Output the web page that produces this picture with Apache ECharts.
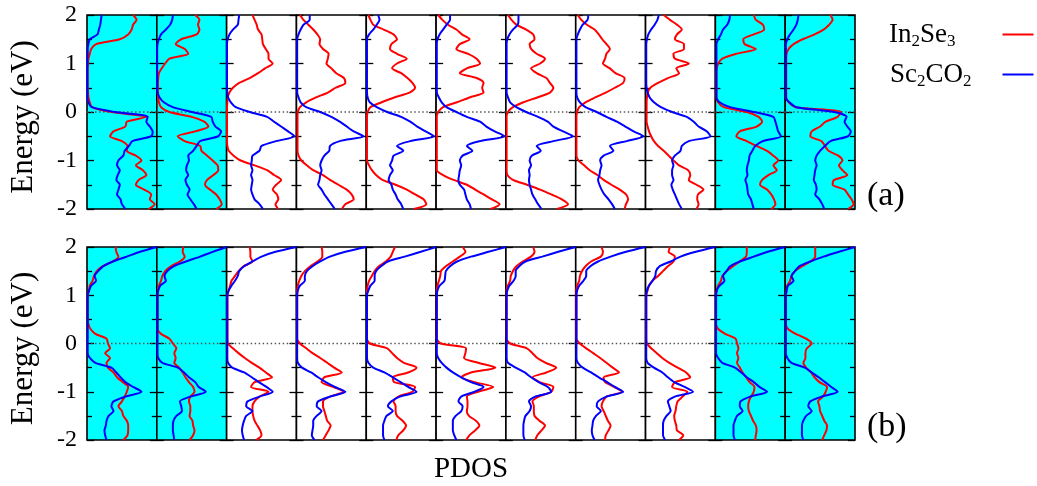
<!DOCTYPE html>
<html>
<head>
<meta charset="utf-8">
<script src="https://cdn.jsdelivr.net/npm/echarts@6/dist/echarts.min.js"></script>
<style>
html,body{margin:0;padding:0;background:#fff;}
#pdos{width:1037px;height:486px;}
</style>
</head>
<body>
<div id="pdos"></div>
<script>
// energy grid, 2 eV down to -2 eV
var energy = [2.0,1.9,1.8,1.7,1.6,1.5,1.4,1.3,1.2,1.1,1.0,0.9,0.8,0.7,0.6,0.5,0.4,0.3,0.2,0.1,0.0,
	-0.1,-0.2,-0.3,-0.4,-0.5,-0.6,-0.7,-0.8,-0.9,-1.0,-1.1,-1.2,-1.3,-1.4,-1.5,-1.6,-1.7,-1.8,-1.9,-2.0];
var energyTicks = [-2,-1,0,1,2];
var seriesNames = ['In2Se3','Sc2CO2'];
var rowLabels = ['(a)','(b)'];
var cyanPanels = [0,1,9,10];

// row (a), PDOS in % of panel width
var a01In = [66,71,66,64,59,47,13,6,4,2, 1.5,1,1,1,1,1,1.5,2,4,7, 35,85,57,55,38,33,50,58,57,70, 78,70,80,85,74,70,82,92,90,97, 88];
var a01Sc = [21,20,19,17,15,4,2,1,1,0.5, 0.5,0.5,0.5,0.5,0.5,0.5,0.5,0.5,2,7, 40,87,85,90,94,92,65,60,54,52, 45,43,47,44,42,47,45,43,48,50, 55];
var a02In = [55,61,59,61,57,35,27,40,45,18, 12,7,3,2,1.5,1.5,1.5,2,3,6, 18,50,68,74,55,30,40,62,64,72, 80,87,88,81,72,69,76,85,90,93, 85];
var a02Sc = [23,22,19,13,6,3,1,0.5,0.5,0.5, 0.5,0.5,0.5,0.5,0.5,0.5,1,4,10,23, 50,78,80,84,92,88,62,57,52,45, 46,43,42,45,41,43,47,44,48,53, 57];
var a03In = [37,40,43,45,50,51,52,56,60,60, 66,55,45,33,18,9,4,1.5,1,0.5, 0.5,0.5,0.5,0.5,0.5,0.5,0.5,1,3,10, 20,40,58,68,78,71,66,72,74,70, 74];
var a03Sc = [18,17,16,9,4,1.5,0.5,0.5,0.5,0.5, 0.5,0.5,0.5,0.5,0.5,0.5,1,2,6,13, 33,58,68,78,88,97,71,50,47,37, 36,35,37,35,37,36,35,37,40,47, 52];
var a04In = [5,10,17,24,30,34,33,38,46,45, 43,50,57,68,70,56,45,28,14,5, 2,1.5,1.5,1.5,1.5,1.5,1.5,1.5,1.5,3, 7,15,24,38,48,60,72,79,82,70, 65];
var a04Sc = [19,19,10,6,3,1,1,1,1,1, 1,1,1,1,1,1,1,3,6,14, 34,50,62,72,82,96,62,48,47,40, 36,34,36,34,33,31,36,40,45,50, 55];
var a05In = [3,6,10,25,39,44,36,34,44,58, 44,37,50,59,66,70,62,40,22,6, 2,1,1,1,1,1,1,1,1,1, 1,4,8,14,23,42,58,70,82,86, 68];
var a05Sc = [17,19,15,10,4,1,1,1,1,1, 1,1,1,1,1,1,1,2,5,15, 30,50,63,73,85,97,63,44,53,39, 37,34,38,34,32,36,38,42,45,50, 53];
var a06In = [3,9,17,29,37,48,34,29,46,58, 63,44,34,58,68,66,68,48,30,10, 3,1,1,1,1,1,1,1,1,1, 1,1,1,10,25,44,56,68,80,91, 78];
var a06Sc = [20,20,15,10,5,2,1,1,1,1, 1,1,1,1,1,1,1,4,8,15, 29,44,63,72,84,98,63,44,52,38, 34,36,34,33,32,34,40,42,44,48, 50];
var a07In = [3,8,15,29,39,41,34,36,44,56, 49,36,44,58,63,68,63,45,25,10, 3,1,1,1,1,1,1,1,1,1, 1,1,1,2,10,30,49,65,80,89, 73];
var a07Sc = [18,18,17,10,5,2,1,1,1,1, 1,1,1,1,1,1,1,3,6,15, 29,46,60,68,82,96,68,44,50,37, 34,36,33,34,33,34,36,38,42,46, 51];
var a08In = [3,8,16,27,33,38,44,49,44,42, 39,49,57,70,68,56,43,28,14,5, 2,1,1,1,1,1,1,1,1,1, 4,12,20,31,40,51,63,72,75,72, 70];
var a08Sc = [18,17,10,6,3,1,1,1,1,1, 1,1,1,1,1,1,1,2,6,14, 30,44,59,71,83,97,73,49,54,40, 35,37,35,34,32,34,37,41,47,52, 56];
var a09In = [26,35,45,52,45,42,55,55,40,42, 62,44,48,32,18,7,3,2,1.5,1.5, 1.5,1.5,1.5,3,5,8,12,18,26,33, 40,48,61,64,62,73,83,75,74,76, 73];
var a09Sc = [19,17,13,8,4,2,1,1,1,1, 1,1,1,1,1,1.5,3,6,12,22, 38,59,69,76,88,93,62,52,50,42, 38,40,38,38,40,37,39,42,45,48, 52];
var a10In = [55,58,68,70,55,40,42,58,30,10, 4,2,1.5,1.5,1.5,1.5,1.5,1.5,4,12, 45,62,67,59,35,30,45,59,74,83, 90,83,88,76,67,64,74,80,84,86, 80];
var a10Sc = [21,20,17,11,8,4,1.5,1.5,1.5,1.5, 1.5,1.5,1.5,1.5,1.5,1.5,1.5,1.5,6,21, 55,83,86,88,90,94,68,57,53,49, 48,46,45,46,43,45,46,47,51,53, 55];
var a11In = [65,68,63,55,42,25,12,5,2,1.5, 1.5,1.5,1.5,1.5,1.5,1.5,1.5,1.5,5,15, 80,75,58,50,38,36,52,57,62,76, 82,77,82,89,70,68,85,90,95,98, 90];
var a11Sc = [19,18,16,12,7,3,1,1,1,1, 1,1,1,1,1,1,1,1,6,16, 70,88,85,89,94,90,65,57,50,45, 43,45,43,42,41,44,45,43,49,53, 56];

// row (b)
var b01In = [41,42,45,37,22,14,10,8,4,3, 1,1,1,1,1,1,2,5,12,28, 30,33,26,33,28,30,38,43,51,59, 57,54,50,45,50,52,57,59,59,58, 52];
var b01Sc = [100,76,57,37,23,16,11,13,6,3, 1,1,1,1,1,1,1,1,1,1, 1,1,1,4,12,35,42,48,55,66, 78,55,38,35,38,31,28,27,25,26, 28];
var b02In = [38,37,40,33,20,12,8,6,3,2, 1,1,1,1,1,1,1,1,6,18, 23,28,25,27,25,32,37,41,46,52, 54,48,46,48,48,47,51,52,54,52, 47];
var b02Sc = [100,80,62,42,24,15,11,13,5,2, 1,1,1,1,1,1,1,1,1,1, 1,1,1,2,8,30,39,46,55,60, 70,48,33,35,36,28,24,23,23,24, 25];
var b03In = [33,34,34,37,24,17,12,7,5,3, 1,1,1,1,1,1,1,1,1,1, 2,9,17,26,36,47,56,65,40,35, 60,47,40,37,37,38,40,44,48,50, 42];
var b03Sc = [100,70,50,37,25,18,16,12,7,3, 1,1,1,1,1,1,1,1,1,1, 1,1,1,1,2,8,25,36,46,57, 66,47,30,28,37,28,25,23,22,23, 25];
var b04In = [36,37,37,30,20,12,7,4,2,1, 1,1,1,1,1,1,1,1,1,1, 5,14,23,34,44,54,65,40,36,52, 67,48,38,38,40,42,44,49,46,42, 38];
var b04Sc = [100,70,48,34,23,15,12,12,5,2, 1,1,1,1,1,1,1,1,1,1, 1,1,1,1,2,8,21,31,42,55, 70,48,31,29,36,29,24,24,23,22, 26];
var b05In = [41,38,35,28,18,12,8,4,2,1, 1,1,1,1,1,1,1,1,1,1, 5,30,37,44,54,72,60,38,40,70, 66,46,39,42,42,44,52,57,53,46, 43];
var b05Sc = [100,78,55,31,21,14,12,12,6,3, 1,1,1,1,1,1,1,1,1,1, 1,1,1,1,3,10,26,38,49,60, 72,48,36,31,38,29,26,24,24,24, 26];
var b06In = [38,42,34,24,14,7,6,4,2,1, 1,1,1,1,1,1,1,1,1,1, 7,43,42,40,60,85,50,36,55,82, 60,44,45,45,44,47,57,62,56,48, 43];
var b06Sc = [100,75,50,30,20,14,13,12,5,2, 1,1,1,1,1,1,1,1,1,1, 1,1,1,3,8,15,24,36,50,68, 55,36,32,38,36,28,24,24,24,26, 29];
var b07In = [39,41,36,24,15,10,7,6,3,1, 1,1,1,1,1,1,1,1,1,1, 6,30,38,45,57,72,58,38,48,68, 65,47,38,40,40,41,48,56,51,45, 42];
var b07Sc = [100,75,52,28,19,14,14,11,5,2, 1,1,1,1,1,1,1,1,1,1, 1,1,1,1,3,14,27,36,47,60, 65,42,33,36,34,28,26,25,25,25, 27];
var b08In = [37,39,36,22,14,9,6,5,2,1, 1,1,1,1,1,1,1,1,1,1, 6,15,25,35,44,53,62,40,42,55, 66,44,39,37,40,43,46,50,47,43, 42];
var b08Sc = [100,72,50,32,21,15,15,11,5,2, 1,1,1,1,1,1,1,1,1,1, 1,1,1,1,3,10,22,33,45,56, 68,44,32,30,36,29,25,24,23,24, 27];
var b09In = [35,33,42,40,32,25,18,10,5,3, 1,1,1,1,1,1,1,1,1,1, 2,8,16,24,34,46,58,64,42,38, 60,53,46,44,43,41,42,44,45,54, 48];
var b09Sc = [100,72,50,36,20,15,14,10,5,2, 1,1,1,1,1,1,1,1,1,1, 1,1,1,1,3,12,24,32,41,56, 68,42,32,34,36,30,26,25,25,25, 28];
var b10In = [45,45,44,35,25,16,10,8,4,2, 1,1,1,1,1,1,1,4,14,29, 31,33,31,33,31,35,39,44,49,56, 55,51,48,47,48,51,54,58,59,58, 57];
var b10Sc = [100,75,55,35,21,16,11,13,6,2, 1,1,1,1,1,1,1,1,1,1, 1,1,1,4,10,28,37,45,55,63, 74,50,36,35,39,31,28,26,26,26, 28];
var b11In = [43,43,43,36,24,14,9,7,3,2, 1,1,1,1,1,1,1,4,15,30, 38,31,29,29,26,30,37,42,49,60, 58,54,47,49,50,53,56,60,59,56, 53];
var b11Sc = [100,77,55,36,20,14,9,12,4,2, 1,1,1,1,1,1,1,1,1,1, 1,1,1,3,9,28,38,48,57,66, 75,52,36,33,38,30,26,24,24,24, 26];

var rowA = [[a01In,a01Sc],[a02In,a02Sc],[a03In,a03Sc],[a04In,a04Sc],[a05In,a05Sc],[a06In,a06Sc],
	[a07In,a07Sc],[a08In,a08Sc],[a09In,a09Sc],[a10In,a10Sc],[a11In,a11Sc]];
var rowB = [[b01In,b01Sc],[b02In,b02Sc],[b03In,b03Sc],[b04In,b04Sc],[b05In,b05Sc],[b06In,b06Sc],
	[b07In,b07Sc],[b08In,b08Sc],[b09In,b09Sc],[b10In,b10Sc],[b11In,b11Sc]];

var FONT = 'Liberation Serif';
var colors = ['#ff0000','#0000ff'];
// legend labels split into [text, isSubscript] pieces
var legendParts = {
	'In2Se3': [['In',0],['2',1],['Se',0],['3',1]],
	'Sc2CO2': [['Sc',0],['2',1],['CO',0],['2',1]]
};

function toPoints(vals){
	var pts = [];
	for (var k = 0; k < energy.length; k++) {
		pts.push([vals[k], energy[k]]);
	}
	return pts;
}

// pad each legend label so the line icons line up on the right
var measureCtx = document.createElement('canvas').getContext('2d');
function legendLabel(name){
	var parts = legendParts[name], out = '', w = 0;
	for (var p = 0; p < parts.length; p++) {
		measureCtx.font = (parts[p][1] ? 17 : 27) + 'px ' + FONT;
		w += measureCtx.measureText(parts[p][0]).width;
		out += (parts[p][1] ? '{s|' : '{m|') + parts[p][0] + '}';
	}
	var pad = Math.max(0, 108 - w);
	return out + '{g' + Math.round(pad) + '|}';
}

function buildOption(){
	var grids = [], xAxes = [], yAxes = [], series = [];
	var rows = [rowA, rowB];
	var tops = [15, 247], heights = [194, 193];
	var left0 = 87, panelW = 768 / 11;
	var g = 0;
	for (var r = 0; r < rows.length; r++) {
		for (var i = 0; i < rows[r].length; i++) {
			var cyan = cyanPanels.indexOf(i) >= 0;
			grids.push({
				left: left0 + i * panelW, top: tops[r], width: panelW, height: heights[r],
				show: true, backgroundColor: cyan ? '#00ffff' : '#ffffff',
				borderColor: '#000', borderWidth: 1.6
			});
			var isPdos = (r == 1 && i == 5);
			xAxes.push({
				gridIndex: g, type: 'value', min: 0, max: 100,
				axisLine: {show: false}, axisTick: {show: false}, axisLabel: {show: false}, splitLine: {show: false},
				name: isPdos ? 'PDOS' : '', nameLocation: 'middle', nameGap: 15,
				nameTextStyle: {fontFamily: FONT, fontSize: 29, color: '#000'}
			});
			for (var side = 0; side < 2; side++) {
				var first = (side == 0 && i == 0);
				yAxes.push({
					gridIndex: g, type: 'value', min: energyTicks[0], max: energyTicks[energyTicks.length - 1], interval: 1,
					position: side == 0 ? 'left' : 'right',
					axisLine: {show: false},
					axisTick: {show: true, inside: true, length: 7, lineStyle: {color: '#000', width: 1.3}},
					minorTick: {show: true, splitNumber: 2, length: 5, lineStyle: {color: '#000', width: 1.3}},
					splitLine: {show: false},
					axisLabel: {show: first, margin: 10, fontFamily: FONT, fontSize: 24, color: '#000'},
					name: first ? 'Energy (eV)' : '', nameLocation: 'middle', nameGap: 48, nameRotate: 90,
					nameTextStyle: {fontFamily: FONT, fontSize: 31, color: '#000', padding: [0, 10, 0, 0]}
				});
			}
			// dotted zero line
			series.push({
				type: 'line', xAxisIndex: g, yAxisIndex: 2 * g, data: [[0, 0], [100, 0]],
				symbol: 'none', silent: true, z: 1,
				lineStyle: {color: '#555', width: 1.3, type: [1.5, 2.5]}
			});
			for (var s = 0; s < 2; s++) {
				series.push({
					name: seriesNames[s], type: 'line', xAxisIndex: g, yAxisIndex: 2 * g,
					data: toPoints(rows[r][i][s]), symbol: 'none', smooth: 0.25, z: 3,
					lineStyle: {color: colors[s], width: 2}, itemStyle: {color: colors[s]}
				});
			}
			g++;
		}
	}
	var rich = {
		m: {fontFamily: FONT, fontSize: 27, lineHeight: 30, color: '#000'},
		s: {fontFamily: FONT, fontSize: 17, padding: [14, 0, 0, 0], color: '#000'}
	};
	for (var n = 0; n < seriesNames.length; n++) {
		var lbl = legendLabel(seriesNames[n]);
		var key = lbl.match(/\{(g\d+)\|\}/)[1];
		rich[key] = {width: parseInt(key.slice(1), 10), fontSize: 27, lineHeight: 30};
	}
	return {
		backgroundColor: '#fff',
		animation: false,
		textStyle: {fontFamily: FONT},
		grid: grids, xAxis: xAxes, yAxis: yAxes, series: series,
		legend: {
			data: seriesNames, orient: 'vertical', left: 884, top: 16, align: 'right',
			icon: 'rect', itemWidth: 31, itemHeight: 2, itemGap: 11, selectedMode: false,
			formatter: legendLabel,
			textStyle: {fontFamily: FONT, rich: rich}
		},
		graphic: [
			{type: 'text', left: 867, top: 179, style: {text: rowLabels[0], font: '34px ' + FONT, fill: '#000'}},
			{type: 'text', left: 867, top: 410, style: {text: rowLabels[1], font: '34px ' + FONT, fill: '#000'}}
		]
	};
}

var myChart = echarts.init(document.getElementById('pdos'));
myChart.setOption(buildOption());
</script>
</body>
</html>
